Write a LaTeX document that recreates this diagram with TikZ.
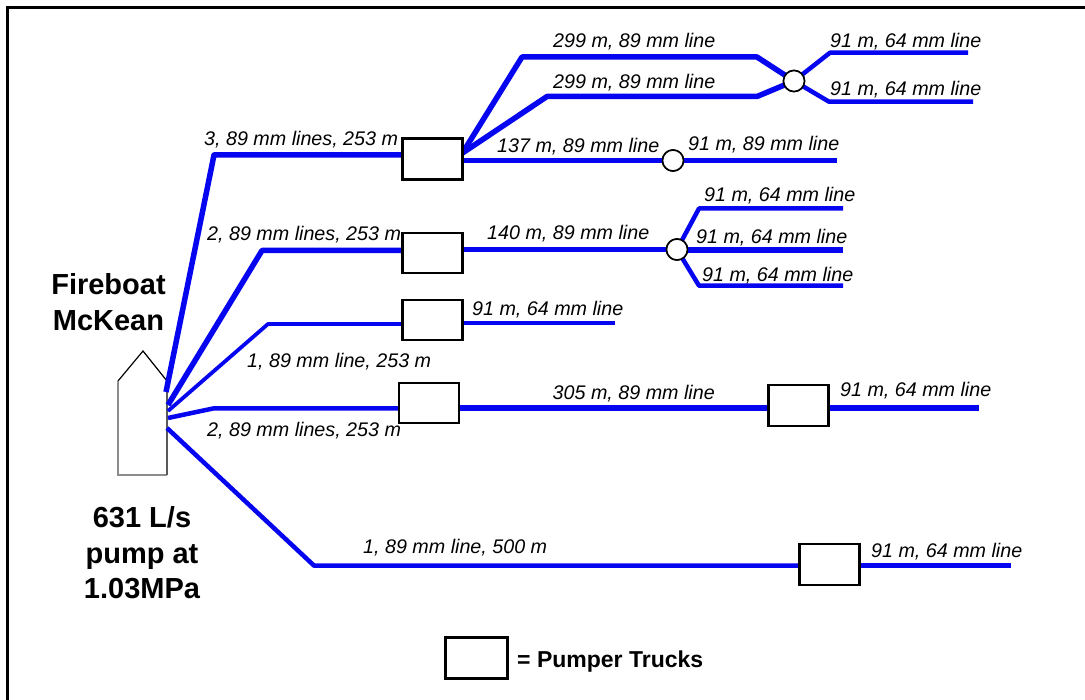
\documentclass[tikz,border=0pt]{standalone}
\usepackage{fontspec}
\setmainfont{Liberation Sans}
\definecolor{hose}{RGB}{5,5,240}
\tikzset{
  x=1pt,y=-1pt,
  hoseA/.style={draw=hose,line width=5.5pt,line join=round},
  hoseB/.style={draw=hose,line width=4.5pt,line join=round},
  hoseC/.style={draw=hose,line width=3.8pt,line join=round},
  truck/.style={draw=black,fill=white,line width=2.2pt,minimum width=60pt,minimum height=41pt,inner sep=0pt,outer sep=0pt},
  valve/.style={circle,draw=black,fill=white,line width=1.6pt,minimum size=21pt,inner sep=0pt,outer sep=0pt},
  lbl/.style={font=\fontsize{19.7}{20}\selectfont\itshape,inner sep=0pt,anchor=base west},
  big/.style={font=\fontsize{29}{35.5}\selectfont\bfseries,inner sep=0pt,align=center},
}
\begin{document}
\begin{tikzpicture}
\useasboundingbox (0,0) rectangle (1085,700);
\fill[white] (0,0) rectangle (1085,700);
\draw[black,line width=2.8pt] (7.5,700) -- (7.5,7.3) -- (1085,7.3);
% boat
\fill[white] (118,475) -- (118,381) -- (143,351) -- (167,381) -- (167,475) -- cycle;
\draw[black,line width=1.2pt] (118,381) -- (143,351) -- (167,381);
\draw[black!45,line width=1.2pt] (118,381) -- (118,475) -- (167,475);
\draw[black!65,line width=1.2pt] (167,381) -- (167,475);
% nodes (positions)
\node[truck] (t1) at (432.5,159) {};
\node[truck,minimum height=40pt] (t2) at (432.5,253) {};
\node[truck,minimum height=40pt] (t3) at (432.5,320) {};
\node[truck,minimum height=40pt] (t4) at (429,403) {};
\node[truck] (t5) at (798.5,405.5) {};
\node[truck] (t6) at (829.5,564.5) {};
\node[truck,minimum width=62pt] (legend) at (476.5,658) {};
\node[valve] (v1) at (794,81) {};
\node[valve] (v2) at (673,160.5) {};
\node[valve] (v3) at (677,249.5) {};
\coordinate (b1) at (166,392);
\coordinate (b2) at (168,405);
\coordinate (b3) at (168,411);
\coordinate (b4) at (168,418);
\coordinate (b5) at (167,428);
\coordinate (e1) at (968,52.7);
\coordinate (e2) at (973,101.7);
\coordinate (e3) at (837,160.5);
\coordinate (e4) at (843,208.5);
\coordinate (e5) at (843,250);
\coordinate (e6) at (843,285.7);
\coordinate (e7) at (615,323);
\coordinate (e8) at (979,408);
\coordinate (e9) at (1011,565.6);
% connectors
\draw[hoseA] (b1) -- (214,155) -- (t1.west |- 214,155);
\draw[hoseA] (b2) -- (262,250.5) -- (t2.west |- 262,250.5);
\draw[hoseC] (b3) -- (268,324) -- (t3.west |- 268,324);
\draw[hoseB] (b4) -- (213,408.5) -- (t4.west |- 213,408.5);
\draw[hoseB] (b5) -- (314,565.6) -- (t6.west |- 314,565.6);
\draw[hoseA] (t1.east |- 0,153) -- (522,57) -- (757,57) -- (v1);
\draw[hoseA] (t1.east |- 0,153) -- (547,96.5) -- (757,96.5) -- (v1);
\draw[hoseB] (t1.east |- v2) -- (v2);
\draw[hoseB] (v2) -- (e3);
\draw[hoseB] (v1) -- (830,52.7) -- (e1);
\draw[hoseB] (v1) -- (829,101.7) -- (e2);
\draw[hoseA] (t2.east |- v3) -- (v3);
\draw[hoseB] (v3) -- (699,208.5) -- (e4);
\draw[hoseA] (v3.east |- e5) -- (e5);
\draw[hoseB] (v3) -- (699,285.7) -- (e6);
\draw[hoseC] (t3.east |- e7) -- (e7);
\draw[hoseA] (t4.east |- e8) -- (t5.west |- e8);
\draw[hoseA] (t5.east |- e8) -- (e8);
\draw[hoseB] (t6.east |- e9) -- (e9);
% labels
\node[lbl] (l1) at (553,48) {299 m, 89 mm line};
\node[lbl] (l2) at (553,89) {299 m, 89 mm line};
\node[lbl] (l3) at (830,48) {91 m, 64 mm line};
\node[lbl] (l4) at (830,96) {91 m, 64 mm line};
\node[lbl] (l5) at (497,153) {137 m, 89 mm line};
\node[lbl] (l6) at (688,151) {91 m, 89 mm line};
\node[lbl] (l7) at (204,146) {3, 89 mm lines, 253 m};
\node[lbl] (l8) at (207,241) {2, 89 mm lines, 253 m};
\node[lbl] (l9) at (487,240) {140 m, 89 mm line};
\node[lbl] (l10) at (704,202) {91 m, 64 mm line};
\node[lbl] (l11) at (696,244) {91 m, 64 mm line};
\node[lbl] (l12) at (702,282) {91 m, 64 mm line};
\node[lbl] (l13) at (472,316) {91 m, 64 mm line};
\node[lbl] (l14) at (247,368) {1, 89 mm line, 253 m};
\node[lbl] (l15) at (207,437) {2, 89 mm lines, 253 m};
\node[lbl] (l16) at (552.5,400) {305 m, 89 mm line};
\node[lbl] (l17) at (840,397) {91 m, 64 mm line};
\node[lbl] (l18) at (363,554) {1, 89 mm line, 500 m};
\node[lbl] (l19) at (871,557) {91 m, 64 mm line};
% boxes over lines and labels
\node[truck] at (t1) {};
\node[truck,minimum height=40pt] at (t2) {};
\node[truck,minimum height=40pt] at (t3) {};
\node[truck,minimum height=40pt] at (t4) {};
\node[truck] at (t5) {};
\node[truck] at (t6) {};
\node[valve] at (v1) {};
\node[valve] at (v2) {};
\node[valve] at (v3) {};
\node[big] (name) at (108.5,302) {Fireboat\\McKean};
\node[big] (pump) at (142,553) {631 L/s\\pump at\\1.03MPa};
\node[font=\fontsize{23}{23}\selectfont\bfseries,inner sep=0pt,anchor=base west] (legtext) at (517,667) {= Pumper Trucks};
\end{tikzpicture}
\end{document}
